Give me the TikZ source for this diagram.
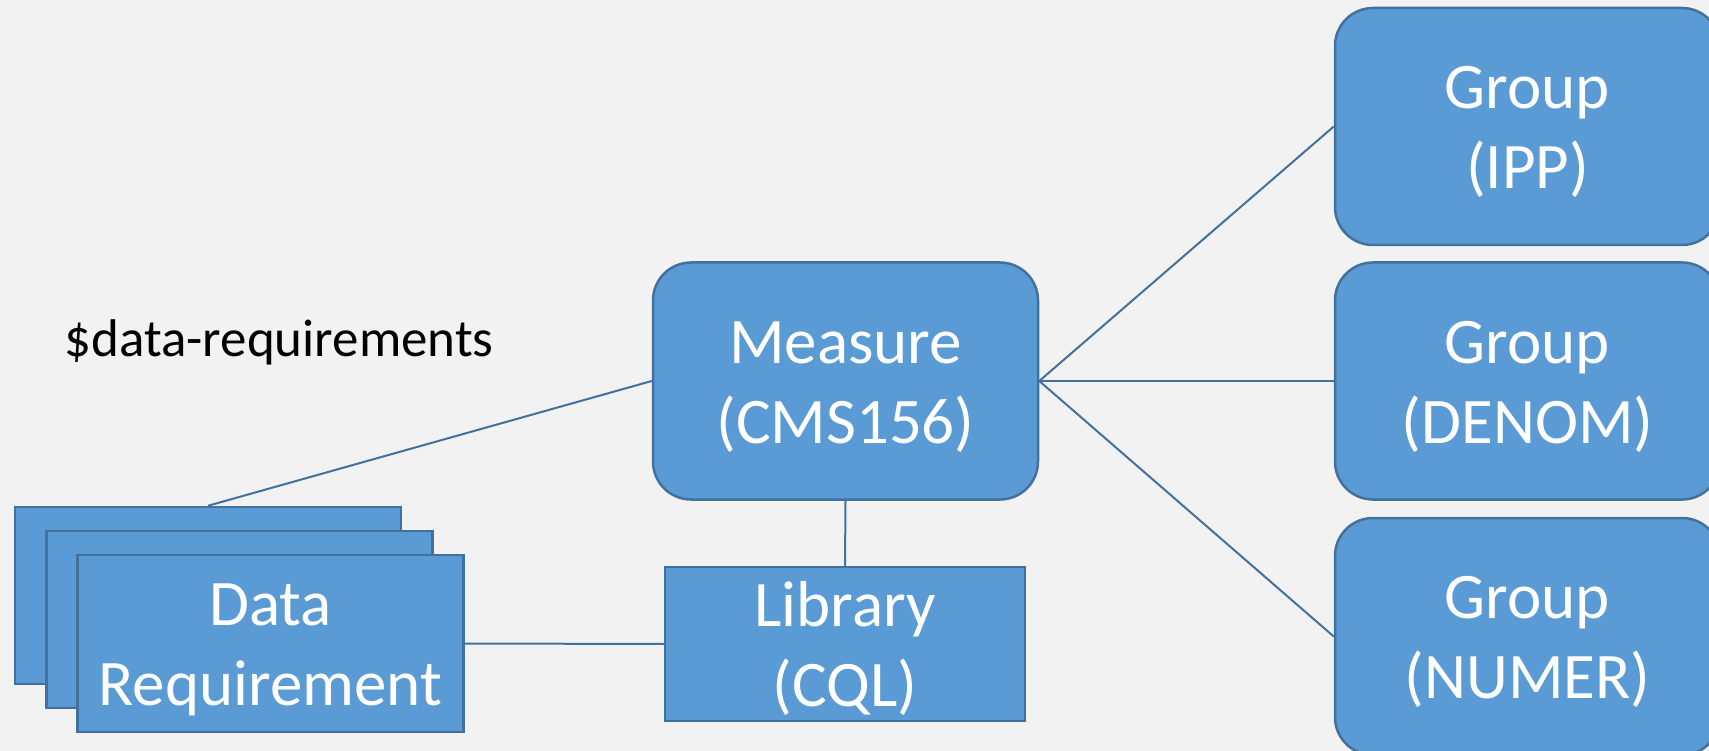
\documentclass[tikz,border=0pt]{standalone}
\usepackage{fontspec}
\setmainfont{Carlito}
\definecolor{boxfill}{HTML}{5B9BD5}
\definecolor{boxline}{HTML}{41719C}
\definecolor{paper}{HTML}{F2F2F2}
\begin{document}
\begin{tikzpicture}[
    x=1pt, y=-1pt,
    every node/.style={font=\fontsize{65}{80}\selectfont, text=white, align=center},
    blockbox/.style={draw=boxline, fill=boxfill, line width=2.5pt, inner sep=0pt,
        execute at begin node={\rule{0pt}{134pt}}},
    roundbox/.style={blockbox, rounded corners=38pt, minimum width=385pt, minimum height=237pt},
    sheetbox/.style={blockbox, minimum width=386pt, minimum height=177pt},
    link/.style={draw=boxline, line width=2pt}
]
\fill[paper] (0,0) rectangle (1709,751);
\useasboundingbox (0,0) rectangle (1709,751);
\node[roundbox] (measure) at (845.5,381) {Measure\\(CMS156)};
\node[roundbox] (ipp) at (1527.5,126.5) {Group\\(IPP)};
\node[roundbox] (denom) at (1527.5,381) {Group\\(DENOM)};
\node[roundbox] (numer) at (1527.5,636.5) {Group\\(NUMER)};
\node[blockbox, minimum width=360pt, minimum height=154pt] (library) at (845,644) {Library\\(CQL)};
\node[sheetbox] (req3) at (208,595.5) {};
\node[sheetbox] (req2) at (239.5,619.5) {};
\node[sheetbox] (req1) at (270.5,643.5) {Data\\Requirement};
\node[text=black, font=\fontsize{53}{62}\selectfont, anchor=base west] (label) at (61,356) {\$data-requirements};
\draw[link] (req3.north) -- (measure.west);
\draw[link] (measure.east) -- (ipp.west);
\draw[link] (measure.east) -- (denom.west);
\draw[link] (measure.east) -- (numer.west);
\draw[link] (measure.south) -- (library.north);
\draw[link] (req1.east) -- (library.west);
\end{tikzpicture}
\end{document}
